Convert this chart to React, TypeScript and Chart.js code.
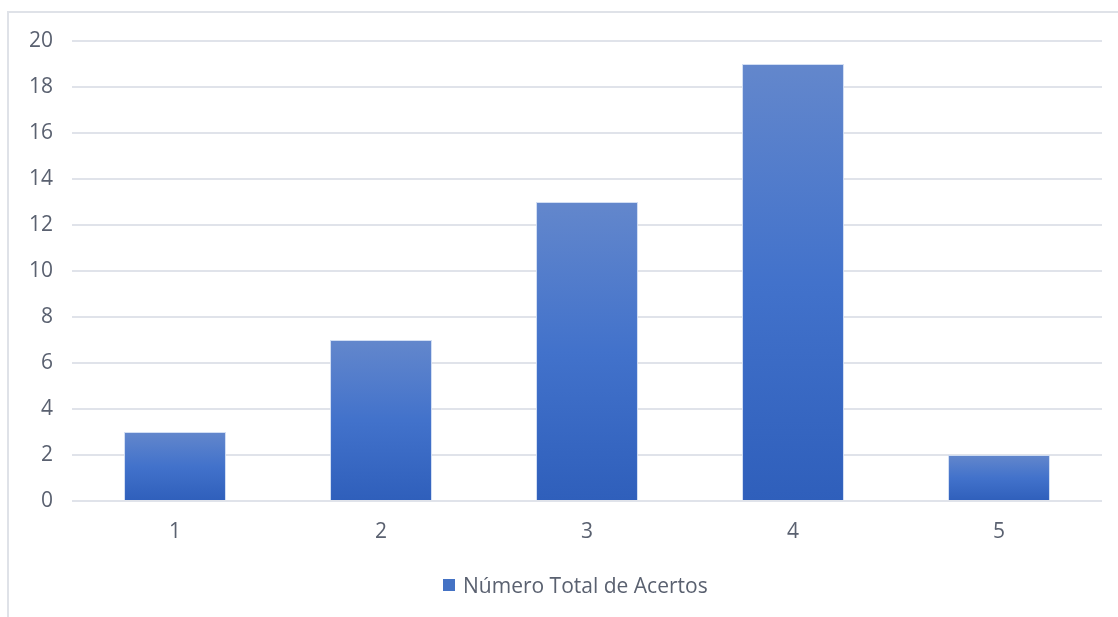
import React, { useEffect, useRef } from "react";
import { Chart, registerables } from "chart.js";

Chart.register(...registerables);

const categories = ["1", "2", "3", "4", "5"];
const seriesName = "Número Total de Acertos";
const values = [3, 7, 13, 19, 2];
const yTicks = [0, 2, 4, 6, 8, 10, 12, 14, 16, 18, 20];

const TEXT = "#5a6170";
const GRID = "#e0e3ea";
const FONT = "'Open Sans', sans-serif";

export default function App() {
  const ref = useRef<HTMLCanvasElement | null>(null);
  useEffect(() => {
    if (!ref.current) return;
    const chart = new Chart(ref.current, {
      type: "bar",
      data: {
        labels: categories,
        datasets: [
          {
            label: seriesName,
            data: values,
            backgroundColor: (ctx: any) => {
              const c = ctx.chart;
              const ys = c.scales?.y;
              if (!ys || ctx.type !== "data") return "#4472c4";
              const top = ys.getPixelForValue(ctx.raw);
              const base = ys.getPixelForValue(0);
              if (!isFinite(top) || !isFinite(base) || top === base) return "#4472c4";
              const g = c.ctx.createLinearGradient(0, top, 0, base);
              g.addColorStop(0, "#6387cc");
              g.addColorStop(0.5, "#4272cb");
              g.addColorStop(1, "#2f5fbb");
              return g;
            },
            borderColor: "rgba(205,218,242,0.9)",
            borderWidth: 1,
            barPercentage: 0.495,
            categoryPercentage: 1,
          },
        ],
      },
      options: {
        animation: false,
        responsive: false,
        maintainAspectRatio: false,
        layout: { padding: { left: 0, right: 16, top: 41, bottom: 54 } },
        plugins: {
          tooltip: { enabled: false },
          legend: { display: false },
        },
        scales: {
          x: {
            grid: { display: false, drawTicks: false },
            border: { display: false },
            ticks: { color: TEXT, font: { family: FONT, size: 21 }, padding: 18 },
            afterFit: (s: any) => {
              s.height = 62;
            },
          },
          y: {
            min: 0,
            max: 20,
            afterBuildTicks: (s: any) => {
              s.ticks = yTicks.map((v) => ({ value: v }));
            },
            grid: { color: GRID, lineWidth: 2, drawTicks: false },
            border: { display: false },
            ticks: { color: TEXT, font: { family: FONT, size: 21 }, padding: 19 },
            afterFit: (s: any) => {
              s.width = 72;
            },
          },
        },
      },
    });
    return () => chart.destroy();
  }, []);
  return (
    <div style={{ position: "fixed", left: 0, top: 0, width: 1118, height: 617, background: "#fff" }}>
      <div
        style={{
          position: "absolute",
          left: 7,
          top: 11,
          width: 1120,
          height: 620,
          borderLeft: "2px solid #dfe2e8",
          borderTop: "2px solid #dfe2e8",
        }}
      />
      <canvas ref={ref} width={1118} height={617} style={{ position: "absolute", left: 0, top: 0 }} />
      <div
        style={{
          position: "absolute",
          left: 443,
          top: 570,
          height: 30,
          display: "flex",
          alignItems: "center",
          fontFamily: FONT,
          fontSize: 21,
          color: TEXT,
          whiteSpace: "nowrap",
        }}
      >
        <span style={{ display: "inline-block", width: 12, height: 12, background: "#4472c4", marginRight: 8 }} />
        <span>{seriesName}</span>
      </div>
    </div>
  );
}
